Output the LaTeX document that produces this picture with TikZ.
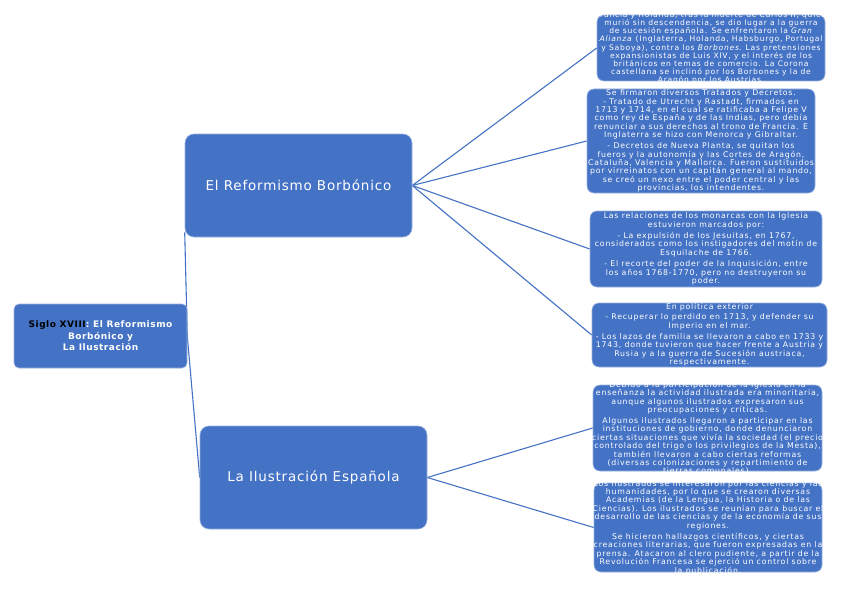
\documentclass[tikz,border=0pt]{standalone}
\usepackage{fontspec}
\setmainfont{DejaVu Sans}
\newfontfamily\notefont[LetterSpace=10]{DejaVu Sans}
\newfontfamily\topicfont[LetterSpace=6]{DejaVu Sans}
\newfontfamily\rootfont[LetterSpace=6]{DejaVu Sans}
\usetikzlibrary{positioning, backgrounds}
\definecolor{boxblue}{HTML}{4472C4}

\begin{document}
\begin{tikzpicture}[
        x=1pt, y=-1pt,
        topicbox/.style={rectangle, draw=boxblue!55!white, line width=0.6pt, fill=boxblue, rounded corners=9pt, inner sep=0pt, text=white, font=\topicfont\fontsize{13.5}{16}\selectfont},
        rootbox/.style={topicbox, rounded corners=5pt, align=center, font=\rootfont\bfseries\fontsize{9}{11.5}\selectfont},
        notebox/.style={rectangle, draw=boxblue!55!white, line width=0.6pt, fill=boxblue, rounded corners=7pt, inner sep=0pt},
        notetext/.style={text=white, align=center, inner sep=0pt, font=\notefont\fontsize{7.8}{8.4}\selectfont},
        link/.style={draw=boxblue, line width=1.1pt}
    ]
    \useasboundingbox (0,0) rectangle (848,599);

    % --- Main topics ---
    \node[rootbox, minimum width=173pt, minimum height=64pt] (siglo) at (100.5,336) {\textcolor{black}{Siglo XVIII}: El Reformismo\\Borbónico y\\La Ilustración};
    \node[topicbox, minimum width=227pt, minimum height=103pt] (reform) at (298.5,185.5) {El Reformismo Borbónico};
    \node[topicbox, minimum width=227pt, minimum height=103pt] (ilustra) at (313.5,477.5) {La Ilustración Española};

    % --- Notes (text runs past the boxes, as in the original) ---
    \node[notebox, minimum width=228pt, minimum height=66pt] (guerra) at (711,48) {};
    \node[notetext, font=\notefont\fontsize{7.6}{8.2}\selectfont] at (guerra) {Francia y Holanda, tras la muerte de Carlos II, quien\\
        murió sin descendencia, se dio lugar a la guerra\\
        de sucesión española. Se enfrentaron la \emph{Gran}\\
        \emph{Alianza} (Inglaterra, Holanda, Habsburgo, Portugal\\
        y Saboya), contra los \emph{Borbones}. Las pretensiones\\
        expansionistas de Luis XIV, y el interés de los\\
        británicos en temas de comercio. La Corona\\
        castellana se inclinó por los Borbones y la de\\
        Aragón por los Austrias.};

    \node[notebox, minimum width=228pt, minimum height=104pt] (tratados) at (701,141) {};
    \node[notetext] at (tratados) {Se firmaron diversos Tratados y Decretos.\\
        - Tratado de Utrecht y Rastadt, firmados en\\
        1713 y 1714, en el cual se ratificaba a Felipe V\\
        como rey de España y de las Indias, pero debía\\
        renunciar a sus derechos al trono de Francia. E\\
        Inglaterra se hizo con Menorca y Gibraltar.\\[2.5pt]
        - Decretos de Nueva Planta, se quitan los\\
        fueros y la autonomía y las Cortes de Aragón,\\
        Cataluña, Valencia y Mallorca. Fueron sustituidos\\
        por virreinatos con un capitán general al mando,\\
        se creó un nexo entre el poder central y las\\
        provincias, los intendentes.};

    \node[notebox, minimum width=232pt, minimum height=76pt] (iglesia) at (706,249) {};
    \node[notetext] at (iglesia) {Las relaciones de los monarcas con la Iglesia\\
        estuvieron marcados por:\\[3pt]
        - La expulsión de los Jesuitas, en 1767,\\
        considerados como los instigadores del motín de\\
        Esquilache de 1766.\\[3pt]
        - El recorte del poder de la Inquisición, entre\\
        los años 1768-1770, pero no destruyeron su\\
        poder.};

    \node[notebox, minimum width=235pt, minimum height=64pt] (exterior) at (709.5,335) {};
    \node[notetext] at (exterior) {En política exterior\\[1.5pt]
        - Recuperar lo perdido en 1713, y defender su\\
        Imperio en el mar.\\[3pt]
        - Los lazos de familia se llevaron a cabo en 1733 y\\
        1743, donde tuvieron que hacer frente a Austria y\\
        Rusia y a la guerra de Sucesión austriaca,\\
        respectivamente.};

    \node[notebox, minimum width=229pt, minimum height=86pt] (ensenanza) at (707.5,428) {};
    \node[notetext] at (ensenanza) {Debido a la participación de la Iglesia en la\\
        enseñanza la actividad ilustrada era minoritaria,\\
        aunque algunos ilustrados expresaron sus\\
        preocupaciones y críticas.\\[2.5pt]
        Algunos ilustrados llegaron a participar en las\\
        instituciones de gobierno, donde denunciaron\\
        ciertas situaciones que vivía la sociedad (el precio\\
        controlado del trigo o los privilegios de la Mesta),\\
        también llevaron a cabo ciertas reformas\\
        (diversas colonizaciones y repartimiento de\\
        tierras comunales).};

    \node[notebox, minimum width=228pt, minimum height=89pt] (academias) at (708,527.5) {};
    \node[notetext] at (academias) {Los ilustrados se interesaron por las ciencias y las\\
        humanidades, por lo que se crearon diversas\\
        Academias (de la Lengua, la Historia o de las\\
        Ciencias). Los ilustrados se reunían para buscar el\\
        desarrollo de las ciencias y de la economía de sus\\
        regiones.\\[3pt]
        Se hicieron hallazgos científicos, y ciertas\\
        creaciones literarias, que fueron expresadas en la\\
        prensa. Atacaron al clero pudiente, a partir de la\\
        Revolución Francesa se ejerció un control sobre\\
        la publicación.};

    % --- Connections (behind the boxes) ---
    \begin{scope}[on background layer]
        \draw[link] (siglo.east) -- ([yshift=5pt]reform.south west);
        \draw[link] (siglo.east) -- (ilustra.west);

        \draw[link] (reform.east) -- (guerra.west);
        \draw[link] (reform.east) -- (tratados.west);
        \draw[link] (reform.east) -- (iglesia.west);
        \draw[link] (reform.east) -- (exterior.west);

        \draw[link] (ilustra.east) -- (ensenanza.west);
        \draw[link] (ilustra.east) -- (academias.west);
    \end{scope}

\end{tikzpicture}
\end{document}
